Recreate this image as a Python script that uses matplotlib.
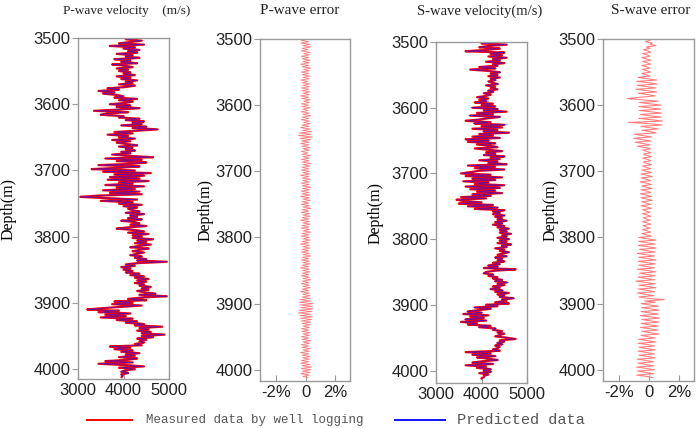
import matplotlib
matplotlib.use("Agg")
import matplotlib.pyplot as plt
from matplotlib.lines import Line2D
import numpy as np

# depth samples every 2 m, 3500 .. 4012
DEPTH = list(range(3500, 4013, 2))

P_VEL = [
    4300, 4050, 4400, 4150, 3900,
    4450, 3700, 4250, 4000, 4350,
    4100, 4300, 3850, 4200, 4050,
    4350, 3800, 4150, 3950, 4300,
    3750, 4050, 4200, 3850, 4100,
    3900, 4150, 4000, 4250, 3850,
    4150, 3950, 4300, 4050, 4200,
    3900, 4250, 4050, 3650, 3900,
    3450, 3800, 3550, 3850, 4000,
    3800, 4300, 3900, 4200, 4050,
    3700, 4150, 3850, 4350, 3900,
    3350, 4100, 3650, 3500, 4000,
    3900, 4350, 4050, 4450, 4200,
    4400, 3950, 4500, 4200, 4750,
    4300, 3800, 4200, 3650, 4100,
    3900, 4250, 3750, 4150, 3850,
    4050, 4300, 3900, 4200, 4050,
    4250, 3950, 4150, 3750, 4100,
    4650, 3600, 4400, 3850, 4500,
    4200, 3450, 4350, 3900, 3300,
    4250, 3550, 4600, 3800, 4450,
    3700, 4350, 3650, 4550, 3900,
    4200, 3600, 4450, 3850, 4250,
    3550, 4350, 3700, 4400, 3450,
    3050, 3700, 4300, 3500, 4200,
    3900, 4400, 4000, 4300, 4100,
    4200, 4350, 4050, 4450, 4150,
    4300, 4100, 4400, 3950, 4250,
    4350, 4150, 4500, 4100, 3850,
    4250, 4450, 4100, 4550, 4200,
    4400, 4200, 4650, 4300, 4500,
    4250, 4600, 4350, 4150, 4550,
    4350, 4200, 4450, 4300, 4150,
    4400, 4250, 4500, 4300, 4950,
    4300, 4050, 4250, 3950, 4150,
    4000, 4200, 4050, 4350, 4150,
    4450, 4250, 4550, 4300, 4500,
    4250, 4450, 4350, 4600, 4400,
    4550, 4300, 4450, 4700, 4350,
    4950, 4400, 4100, 4500, 3800,
    4200, 3750, 4400, 3950, 3550,
    3200, 3900, 3450, 4150, 3600,
    4050, 3500, 4200, 3850, 4300,
    4050, 4450, 4250, 4850, 4350,
    4550, 4300, 4600, 4400, 4900,
    4400, 4650, 4300, 4500, 4350,
    4450, 4250, 4400, 3700, 4150,
    3800, 4200, 3950, 4350, 4050,
    4250, 3900, 4300, 4100, 3600,
    4200, 3450, 4050, 4450, 3900,
    4250, 4050, 3950, 4100, 3950,
    3980, 3960,
]

# P-wave relative error (%)
P_ERR = [
    0.25, -0.30, 0.20, -0.35, 0.30,
    -0.20, 0.35, -0.25, 0.15, -0.30,
    0.30, -0.15, 0.25, -0.30, 0.20,
    -0.25, 0.30, -0.20, 0.25, -0.35,
    0.20, -0.25, 0.35, -0.15, 0.25,
    -0.30, 0.20, -0.25, 0.30, -0.20,
    0.25, -0.35, 0.15, -0.25, 0.30,
    -0.20, 0.25, -0.30, 0.20, -0.25,
    0.30, -0.20, 0.25, -0.35, 0.20,
    -0.25, 0.30, -0.15, 0.25, -0.30,
    0.20, -0.25, 0.30, -0.20, 0.15,
    -0.30, 0.25, -0.20, 0.35, -0.25,
    0.20, -0.30, 0.25, -0.15, 0.30,
    -0.25, 0.20, -0.35, 0.30, -0.20,
    0.40, -0.45, 0.35, -0.50, 0.45,
    -0.40, 0.35, -0.30, 0.25, -0.35,
    0.20, -0.25, 0.30, -0.20, 0.25,
    -0.30, 0.15, -0.25, 0.30, -0.20,
    0.25, -0.30, 0.20, -0.25, 0.35,
    -0.20, 0.30, -0.25, 0.20, -0.30,
    0.25, -0.20, 0.30, -0.35, 0.20,
    -0.25, 0.30, -0.20, 0.25, -0.30,
    0.20, -0.25, 0.35, -0.20, 0.25,
    -0.30, 0.20, -0.25, 0.30, -0.35,
    0.25, -0.20, 0.30, -0.25, 0.20,
    -0.30, 0.25, -0.20, 0.35, -0.25,
    0.20, -0.30, 0.25, -0.20, 0.30,
    -0.25, 0.20, -0.35, 0.25, -0.20,
    0.30, -0.25, 0.20, -0.30, 0.25,
    -0.20, 0.35, -0.25, 0.20, -0.30,
    0.25, -0.20, 0.30, -0.25, 0.20,
    -0.35, 0.25, -0.20, 0.30, -0.25,
    0.20, -0.30, 0.25, -0.20, 0.35,
    -0.25, 0.20, -0.30, 0.25, -0.20,
    0.30, -0.25, 0.20, -0.35, 0.25,
    -0.20, 0.30, -0.25, 0.20, -0.30,
    0.25, -0.20, 0.35, -0.25, 0.20,
    -0.30, 0.25, -0.20, 0.30, -0.25,
    0.20, -0.35, 0.25, -0.20, 0.30,
    -0.25, 0.30, -0.40, 0.35, -0.45,
    0.50, -0.40, 0.45, -0.35, 0.50,
    -0.45, 0.40, -0.50, 0.35, -0.40,
    0.45, -0.35, 0.40, -0.30, 0.35,
    -0.25, 0.30, -0.20, 0.25, -0.30,
    0.20, -0.25, 0.30, -0.20, 0.25,
    -0.30, 0.20, -0.25, 0.35, -0.20,
    0.25, -0.30, 0.20, -0.25, 0.30,
    -0.20, 0.25, -0.35, 0.20, -0.25,
    0.30, -0.20, 0.25, -0.30, 0.20,
    -0.35, 0.30, -0.25, 0.40, -0.30,
    0.35, -0.25, 0.30, -0.35, 0.25,
    -0.20, 0.15,
]

# S-wave velocity measured by well logging (m/s)
S_VEL = [
    4350, 4000, 4550, 4150, 3950,
    4400, 4100, 3650, 4500, 4200,
    4450, 4150, 4550, 4250, 4400,
    4100, 4500, 4250, 4350, 3950,
    4300, 3750, 4150, 4400, 4200,
    4350, 4150, 4400, 4200, 4300,
    4150, 4250, 4350, 4100, 4300,
    4200, 4350, 4150, 4250, 4050,
    4200, 4100, 3900, 4150, 3950,
    4100, 3850, 4250, 4000, 4300,
    3800, 4350, 4050, 4550, 3900,
    4250, 3750, 4400, 4150, 3950,
    3650, 4200, 3850, 4500, 4000,
    4450, 3800, 4350, 4050, 4600,
    3950, 4250, 3800, 4400, 3650,
    4150, 3700, 4300, 3900, 4200,
    4350, 3850, 4150, 4450, 4100,
    4300, 4050, 4500, 4200, 4400,
    3950, 4350, 4150, 4550, 3700,
    4300, 3850, 4500, 3950, 3750,
    3550, 4200, 3650, 4450, 3800,
    4300, 3600, 4150, 3850, 4500,
    3650, 4400, 3750, 4300, 3900,
    4450, 3800, 4200, 3550, 4100,
    3450, 3600, 4000, 3500, 4250,
    3700, 4350, 3850, 4500, 4250,
    4400, 4250, 4500, 4300, 4450,
    4350, 4550, 4300, 4450, 4250,
    4500, 4350, 4600, 4400, 4550,
    4400, 4650, 4450, 4550, 4350,
    4600, 4400, 4550, 4350, 4650,
    4450, 4550, 4300, 4500, 4400,
    4600, 4450, 4350, 4550, 4300,
    4450, 4350, 4500, 4250, 4400,
    4150, 4350, 4050, 4750, 4300,
    4100, 4050, 4250, 4150, 4350,
    4250, 4450, 4300, 4550, 4350,
    4500, 4250, 4400, 4200, 4450,
    4300, 4600, 4350, 4500, 4400,
    4700, 4450, 4550, 4300, 4600,
    4100, 4350, 3850, 4200, 3950,
    3700, 4000, 3600, 4150, 3750,
    4050, 3650, 4100, 3550, 3900,
    3700, 4200, 3950, 4300, 4250,
    4450, 4350, 4500, 4400, 4300,
    4550, 4750, 4400, 4500, 4350,
    4450, 4300, 4400, 4350, 4250,
    4400, 3650, 4200, 3800, 4300,
    3900, 4150, 4350, 4000, 3800,
    4250, 3650, 4100, 3900, 4200,
    4050, 4200, 3950, 4150, 4050,
    4050, 4000,
]

# S-wave relative error (%)
S_ERR = [
    0.20, 0.00, -0.25, 0.20, 0.05,
    0.45, -0.20, 0.05, -0.40, -0.10,
    0.10, -0.45, -0.15, 0.05, -0.50,
    -0.20, 0.10, -0.45, -0.15, 0.10,
    -0.50, -0.20, 0.05, -0.45, -0.15,
    0.10, -0.50, -0.20, 0.05, -0.75,
    -0.15, 0.50, -0.85, -0.10, 0.55,
    -0.80, -0.15, 0.45, -0.90, -0.20,
    0.50, -0.75, -0.10, 0.40, -0.60,
    -1.50, -0.40, 0.60, -0.65, 0.10,
    0.80, -0.70, 0.05, 0.75, -0.65,
    0.10, 0.85, -0.60, 0.00, 0.80,
    -0.70, 0.15, 0.90, -1.40, 0.00,
    0.85, -0.55, 0.05, 0.60, -0.50,
    0.10, 0.45, -1.00, -0.40, 0.15,
    -1.05, -0.45, 0.10, -0.95, -0.40,
    0.05, -0.80, -0.30, 0.10, -0.45,
    -0.15, 0.10, -0.40, -0.15, 0.15,
    -0.45, -0.10, 0.10, -0.40, -0.15,
    0.15, -0.45, -0.20, 0.10, -0.50,
    -0.20, 0.15, -0.55, -0.15, 0.20,
    -0.55, -0.20, 0.10, -0.60, -0.15,
    0.15, -0.50, -0.20, 0.20, -0.55,
    -0.15, 0.10, -0.60, -0.20, 0.15,
    -0.55, -0.15, 0.20, -0.50, -0.20,
    0.10, -0.55, -0.15, 0.15, -0.45,
    -0.20, 0.05, -0.45, -0.15, 0.10,
    -0.40, -0.20, 0.05, -0.45, -0.15,
    0.10, -0.40, -0.20, 0.05, -0.45,
    -0.15, 0.10, -0.50, -0.20, 0.15,
    -0.70, -0.10, 0.45, -0.70, -0.15,
    0.40, -0.75, -0.10, 0.45, -0.65,
    -0.15, 0.40, -0.80, -0.20, 0.35,
    -0.70, -0.10, 0.45, -0.75, -0.15,
    0.40, -0.70, -0.20, 0.35, -0.80,
    -0.10, 0.45, -0.65, -0.15, 0.40,
    -0.75, -0.20, 0.35, -0.90, -0.25,
    0.40, -0.70, -0.10, 0.45, -0.75,
    -0.15, 0.35, -0.80, -0.25, 0.30,
    -0.70, -0.10, 1.00, -0.30, 0.40,
    -0.55, 0.05, 0.60, -0.50, 0.10,
    0.65, -0.55, 0.00, 0.60, -0.60,
    0.05, 0.70, -0.50, 0.10, 0.65,
    -0.55, 0.00, 0.60, -0.60, 0.05,
    0.55, -0.50, 0.10, 0.65, -0.55,
    -0.10, 0.40, -0.70, -0.15, 0.45,
    -0.75, -0.10, 0.35, -0.70, -0.20,
    0.40, -0.75, -0.15, 0.35, -0.70,
    -0.10, 0.40, -0.80, -0.20, 0.30,
    -0.75, -0.25, 0.30, -0.85, -0.20,
    0.35, -0.80, -0.25, 0.30, -0.85,
    -0.20, 0.25,
]

TITLES = ["P-wave velocity    (m/s)", "P-wave error", "S-wave velocity(m/s)", "S-wave error"]
VEL_TICKS = [3000, 4000, 5000]
ERR_TICKS = [-2, 0, 2]
ERR_TICK_LABELS = ["-2%", "0", "2%"]
DEPTH_TICKS = [3500, 3600, 3700, 3800, 3900, 4000]
LEGEND_LABELS = ["Measured data by well logging", "Predicted data"]

SERIF = "Liberation Serif"
SANS = "Liberation Sans"
SPINE = "#9a9a9a"


def style_axis(ax, ylabel_x):
    for s in ax.spines.values():
        s.set_color(SPINE)
        s.set_linewidth(1.0)
    ax.set_yticks(DEPTH_TICKS)
    ax.tick_params(axis="y", direction="out", length=4, color=SPINE, labelsize=12, pad=1.5)
    ax.tick_params(axis="x", direction="in", length=4, color=SPINE, labelsize=12, pad=3)
    for lab in ax.get_xticklabels() + ax.get_yticklabels():
        lab.set_fontfamily(SANS)
        lab.set_color("#222222")
    ax.set_ylabel("Depth(m)", fontfamily=SERIF, fontsize=11.5)
    ax.yaxis.set_label_coords(ylabel_x, 0.5)


def draw_velocity(ax, vel, err, ylim_bottom, ylabel_x):
    depth = np.array(DEPTH)
    measured = np.array(vel, dtype=float)
    predicted = measured * (1 - np.array(err) / 100.0)
    ax.plot(measured, depth, color="#ff0000", linewidth=1.6)
    ax.plot(predicted, depth, color="#1414ff", linewidth=0.5, alpha=0.7)
    ax.set_xlim(3000, 5000)
    ax.set_ylim(ylim_bottom, 3500)
    ax.set_xticks(VEL_TICKS)
    ax.tick_params(axis="x", length=0)
    style_axis(ax, ylabel_x)


def draw_error(ax, err, ylim_bottom, ylabel_x, lw):
    ax.plot(err, DEPTH, color="#ff7a7a", linewidth=lw)
    ax.set_xlim(-3.1, 3.0)
    ax.set_ylim(ylim_bottom, 3500)
    ax.set_xticks(ERR_TICKS)
    ax.set_xticklabels(ERR_TICK_LABELS)
    style_axis(ax, ylabel_x)


fig = plt.figure(figsize=(6.99, 4.28), dpi=100)

ax1 = fig.add_axes([0.1116, 0.1145, 0.1302, 0.7967])
ax2 = fig.add_axes([0.3720, 0.1098, 0.1288, 0.7990])
ax3 = fig.add_axes([0.6238, 0.1051, 0.1302, 0.7967])
ax4 = fig.add_axes([0.8627, 0.1098, 0.1302, 0.7990])

draw_velocity(ax1, P_VEL, P_ERR, 4015, -0.68)
draw_error(ax2, P_ERR, 4017, -0.52, 0.6)
draw_velocity(ax3, S_VEL, S_ERR, 4019, -0.58)
draw_error(ax4, S_ERR, 4017, -0.485, 0.75)

# panel titles
title_x = [127 / 699, 300 / 699, 480 / 699, 651 / 699]
title_size = [9.5, 11, 10.5, 11]
for x, t, fs in zip(title_x, TITLES, title_size):
    fig.text(x, 1 - 11 / 428, t, ha="center", va="center", fontfamily=SERIF, fontsize=fs, color="#222222")

# legend along the bottom
ly = 1 - 420 / 428
fig.add_artist(Line2D([87 / 699, 132 / 699], [ly, ly], color="#ff0000", linewidth=1.4))
fig.add_artist(Line2D([395 / 699, 445 / 699], [ly, ly], color="#1414ff", linewidth=1.4))
fig.text(146 / 699, ly, LEGEND_LABELS[0], ha="left", va="center", fontfamily="Liberation Mono", fontsize=9, color="#555555")
fig.text(457 / 699, ly, LEGEND_LABELS[1], ha="left", va="center", fontfamily="Liberation Mono", fontsize=11, color="#555555")

fig.savefig("out.png", dpi=100)
